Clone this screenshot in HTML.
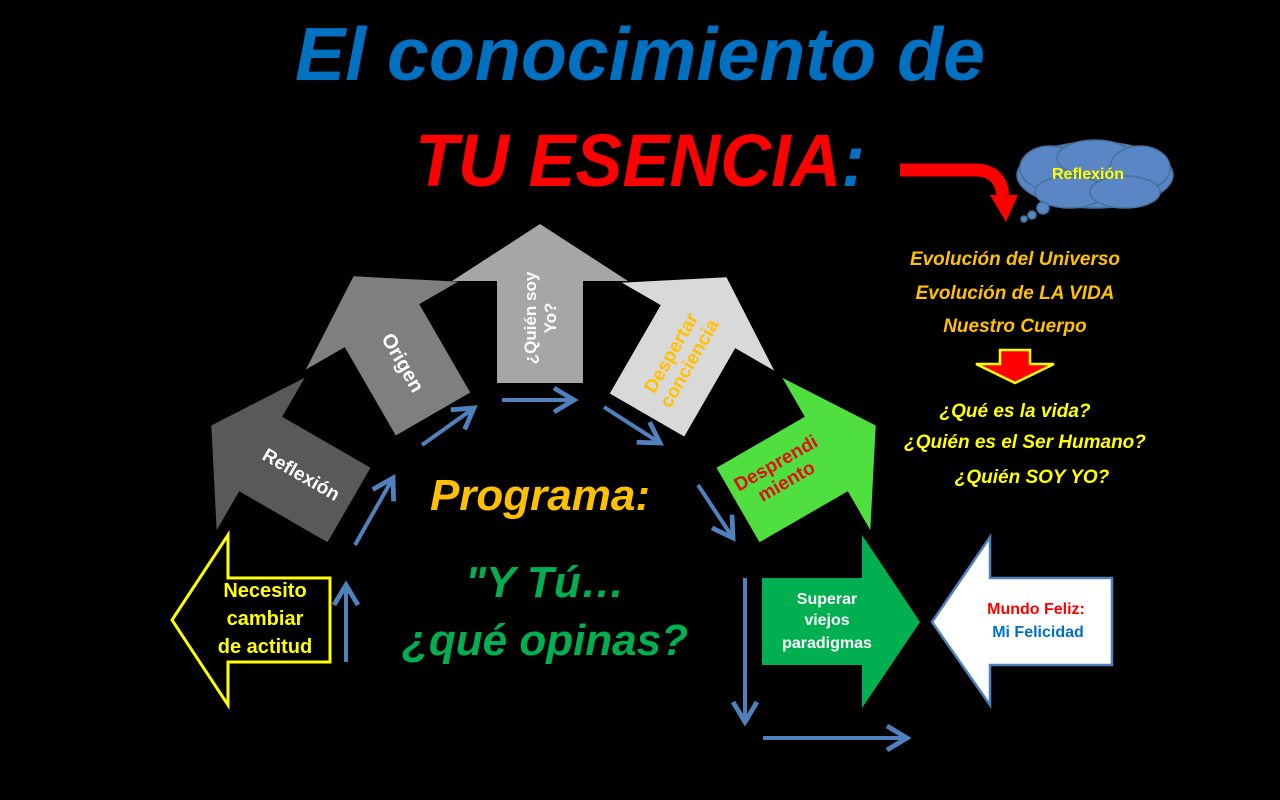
<!DOCTYPE html>
<html><head><meta charset="utf-8"><style>
html,body{margin:0;padding:0;background:#000;}
svg{display:block}
text{font-family:"Liberation Sans",sans-serif;font-weight:bold;}
</style></head><body>
<svg width="1280" height="800" viewBox="0 0 1280 800" xmlns="http://www.w3.org/2000/svg">
<defs>
<path id="ar" d="M-43,0 L-43,-102 L-88,-102 L0,-159 L88,-102 L43,-102 L43,0 Z"/>
<marker id="bh" markerWidth="8" markerHeight="8" refX="6" refY="4" orient="auto" markerUnits="strokeWidth"><path d="M1,1 L6,4 L1,7" fill="none" stroke="#4f81bd" stroke-width="1.2"/></marker>
</defs>
<rect width="1280" height="800" fill="#000"/>
<!-- Title -->
<text x="640" y="80" text-anchor="middle" font-size="75" font-style="italic" fill="#0070c0" textLength="690" lengthAdjust="spacingAndGlyphs">El conocimiento de</text>
<text x="640" y="186" text-anchor="middle" font-size="74" font-style="italic" fill="#ff0000" textLength="450" lengthAdjust="spacingAndGlyphs">TU ESENCIA<tspan fill="#0070c0">:</tspan></text>

<!-- red curved arrow -->
<path d="M900,170 L975,170 Q1000,170 1003,195" fill="none" stroke="#ff0000" stroke-width="13"/>
<polygon points="990,195 1018,195 1006,222" fill="#ff0000"/>
<!-- cloud -->
<g fill="#5b86c5" stroke="#41719c" stroke-width="1.5">
<ellipse cx="1095" cy="175" rx="78" ry="33"/>
<ellipse cx="1050" cy="168" rx="30" ry="22"/>
<ellipse cx="1095" cy="158" rx="38" ry="18"/>
<ellipse cx="1140" cy="168" rx="30" ry="22"/>
<ellipse cx="1070" cy="192" rx="35" ry="16"/>
<ellipse cx="1125" cy="192" rx="35" ry="16"/>
<circle cx="1043" cy="208" r="6"/><circle cx="1032" cy="215" r="4"/><circle cx="1024" cy="219" r="3"/>
</g>
<text x="1088" y="179" text-anchor="middle" font-size="16" fill="#ffff00">Reflexión</text>

<!-- right texts -->
<g font-size="19" font-style="italic" fill="#ffc000" text-anchor="middle">
<text x="1015" y="265">Evolución del Universo</text>
<text x="1015" y="299">Evolución de LA VIDA</text>
<text x="1015" y="332">Nuestro Cuerpo</text>
</g>
<polygon points="1000,350 1030,350 1030,364 1054,364 1015,383 976,364 1000,364" fill="#ff0000" stroke="#ffff00" stroke-width="2.5"/>
<g font-size="19" font-style="italic" fill="#ffff00" text-anchor="middle">
<text x="1015" y="417">¿Qué es la vida?</text>
<text x="1025" y="448">¿Quién es el Ser Humano?</text>
<text x="1032" y="483">¿Quién SOY YO?</text>
</g>

<!-- big arrows -->
<use href="#ar" fill="#595959" transform="translate(349,505) rotate(-60)"/>
<use href="#ar" fill="#7f7f7f" transform="translate(433,414) rotate(-30)"/>
<use href="#ar" fill="#a6a6a6" transform="translate(540,383)"/>
<use href="#ar" fill="#d9d9d9" transform="translate(647,415) rotate(30)"/>
<use href="#ar" fill="#4fdf3f" transform="translate(738,505) rotate(60)"/>

<text transform="translate(298,480) rotate(30)" text-anchor="middle" font-size="19" fill="#fff">Reflexión</text>
<text transform="translate(397,366) rotate(60)" text-anchor="middle" font-size="20" fill="#fff">Origen</text>
<g transform="translate(540,318) rotate(-90)" font-size="17" fill="#fff" text-anchor="middle">
<text x="0" y="-4">¿Quién soy</text><text x="0" y="16">Yo?</text></g>
<g transform="translate(680,358) rotate(-60)" font-size="19" fill="#ffc000" text-anchor="middle">
<text x="0" y="-4">Despertar</text><text x="0" y="17">conciencia</text></g>
<g transform="translate(781,472) rotate(-30)" font-size="19" fill="#e01010" text-anchor="middle">
<text x="0" y="-4">Desprendi</text><text x="0" y="17">miento</text></g>

<!-- blue connectors -->
<g stroke="#4f81bd" stroke-width="4" fill="none" marker-end="url(#bh)">
<line x1="346" y1="662" x2="346" y2="585"/>
<line x1="355" y1="545" x2="393" y2="478"/>
<line x1="422" y1="445" x2="474" y2="408"/>
<line x1="502" y1="400" x2="574" y2="400"/>
<line x1="604" y1="407" x2="660" y2="443"/>
<line x1="698" y1="485" x2="733" y2="538"/>
<line x1="745" y1="578" x2="745" y2="722"/>
<line x1="763" y1="738" x2="907" y2="738"/>
</g>

<!-- yellow outline arrow -->
<polygon points="172,620 228,535 228,578 330,578 330,662 228,662 228,705" fill="#000" stroke="#ffff00" stroke-width="3"/>
<g font-size="20" fill="#ffff00" text-anchor="middle">
<text x="265" y="597">Necesito</text><text x="265" y="625">cambiar</text><text x="265" y="653">de actitud</text></g>

<!-- green arrow -->
<polygon points="762,578 862,578 862,535 920,622 862,708 862,665 762,665" fill="#00b050"/>
<g font-size="16" fill="#fff" text-anchor="middle">
<text x="827" y="604">Superar</text><text x="827" y="625">viejos</text><text x="827" y="648">paradigmas</text></g>

<!-- white arrow -->
<polygon points="932,622 990,537 990,578 1112,578 1112,665 990,665 990,705" fill="#fff" stroke="#4f81bd" stroke-width="2.5"/>
<text x="1036" y="614" text-anchor="middle" font-size="16" fill="#ff0000">Mundo Feliz:</text>
<text x="1038" y="637" text-anchor="middle" font-size="16" fill="#0070c0">Mi Felicidad</text>

<!-- center texts -->
<text x="540" y="510" text-anchor="middle" font-size="44" font-style="italic" fill="#ffc000">Programa:</text>
<text x="545" y="597" text-anchor="middle" font-size="44" font-style="italic" fill="#00b050">"Y Tú…</text>
<text x="545" y="655" text-anchor="middle" font-size="44" font-style="italic" fill="#00b050">¿qué opinas?</text>
</svg>
</body></html>
